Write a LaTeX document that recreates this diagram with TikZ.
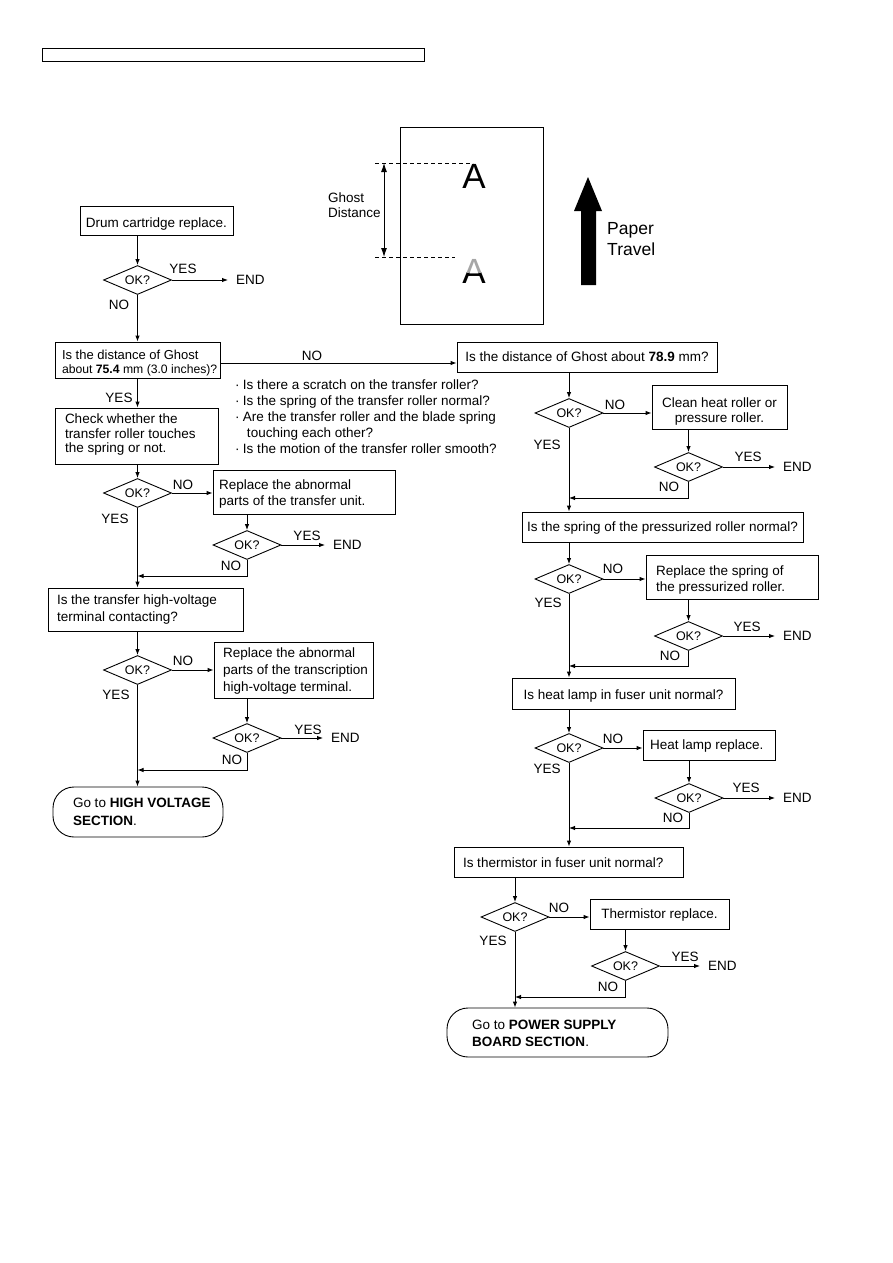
\documentclass[tikz,border=0pt]{standalone}
\usepackage{fontspec}
\setmainfont{Liberation Sans}
\usetikzlibrary{shapes.geometric,arrows.meta}
\newcommand\myfs{\fontsize{13.5}{16}\selectfont}
% raise, width, alignment (l/c), content
\newcommand\tbx[4]{\raisebox{#1}[0pt][0pt]{\makebox[#2][#3]{\begin{tabular}[t]{@{}#3@{}}#4\end{tabular}}}}
\tikzset{
  ln/.style={line width=0.9pt},
  arr/.style={ln,-{Latex[length=6pt,width=4.5pt]}},
  box/.style={draw,ln,rectangle,inner sep=0pt,font=\myfs},
  dec/.style={draw,ln,diamond,aspect=2.35,inner sep=0pt,minimum width=68pt,minimum height=29pt,font=\fontsize{12.5}{14}\selectfont},
  term/.style={draw,ln,rectangle,rounded corners=21pt,inner sep=0pt},
  lbl/.style={inner sep=0pt,font=\myfs},
  endl/.style={inner xsep=8pt,inner ysep=0pt,font=\myfs,anchor=west},
}
\begin{document}
\begin{tikzpicture}[x=1pt,y=-1pt]
\useasboundingbox (0,0) rectangle (893,1263);
\fill[white] (0,0) rectangle (893,1263);
% header bar
\node[draw,ln,minimum width=382pt,minimum height=13pt,inner sep=0pt] (header) at (233,54.5) {};
% ghost figure
\node[draw,ln,minimum width=143pt,minimum height=197pt,inner sep=0pt] (page) at (471.5,225.5) {};
\coordinate (gt1) at (375,163); \coordinate (gt2) at (473,163);
\coordinate (gb1) at (375,257); \coordinate (gb2) at (473,257);
\draw[ln,dash pattern=on 4pt off 3pt] (gt1) -- (gt2);
\draw[ln,dash pattern=on 4pt off 3pt] (gb1) -- (gb2);
\coordinate (da1) at (384,163); \coordinate (da2) at (384,257);
\draw[ln,{Latex[length=9pt,width=6pt]}-{Latex[length=9pt,width=6pt]}] (da1) -- (da2);
\node[lbl,align=left,anchor=west,font=\fontsize{13.5}{15}\selectfont] (ghostlbl) at (328,205.5) {Ghost\\Distance};
\node[lbl,anchor=base,font=\fontsize{35}{35}\selectfont] (Atop) at (474,188) {A};
\node[lbl,anchor=base,font=\fontsize{35}{35}\selectfont] (Abot) at (474,283) {A};
\begin{scope}
  \clip (455,250) rectangle (495,272);
  \fill[white] (455,250) rectangle (495,272);
  \node[lbl,anchor=base,font=\fontsize{35}{35}\selectfont,text=black!35] (Aghost) at (474,283) {A};
\end{scope}
\fill (581,285) -- (581,211) -- (574,211) -- (588,177) -- (602,211) -- (596,211) -- (596,285) -- cycle;
\node[lbl,align=left,anchor=west,font=\fontsize{17.5}{21}\selectfont] (ptravel) at (607,239.5) {Paper\\Travel};

% ===== left column =====
\node[box,minimum width=153pt,minimum height=29pt] (drum) at (156.5,220.5) {\tbx{-6.5pt}{145pt}{c}{Drum cartridge replace.}};
\node[dec] (d1) at (137.5,280) {OK?};
\draw[arr] (drum.south -| d1.north) -- (d1.north);
\node[endl] (e1) at (228,280) {END};
\draw[arr] (d1.east) -- (e1.west);
\node[lbl] (y1) at (183,269) {YES};
\node[lbl] (n1) at (119,305) {NO};

\node[box,minimum width=165pt,minimum height=36pt,font=\fontsize{13}{14}\selectfont] (g75) at (137.5,360) {\tbx{1pt}{151pt}{l}{Is the distance of Ghost\\{\fontsize{12.2}{14}\selectfont about \textbf{75.4} mm (3.0 inches)?}}};
\draw[arr] (d1.south) -- (d1.south |- g75.north);

\node[box,minimum width=260pt,minimum height=30pt] (g78) at (587,357) {\tbx{-4.5pt}{250pt}{c}{Is the distance of Ghost about \textbf{78.9} mm?}};
\draw[arr] ([yshift=-3pt]g75.east) -- ([yshift=-3pt]g75.east -| g78.west);
\node[lbl] (n0) at (312,356) {NO};

\node[lbl,anchor=north west] (bul) at (235,378.5) {\begin{tabular}{@{}l@{\hspace{3.3pt}}l@{}}
·&Is there a scratch on the transfer roller?\\
·&Is the spring of the transfer roller normal?\\
·&Are the transfer roller and the blade spring\\
&\hspace{4pt}touching each other?\\
·&Is the motion of the transfer roller smooth?
\end{tabular}};

\node[box,minimum width=163pt,minimum height=56pt,font=\fontsize{13.5}{14.5}\selectfont] (chk) at (136.5,436) {\tbx{12.5pt}{143pt}{l}{Check whether the\\transfer roller touches\\the spring or not.}};
\draw[arr] (g75.south -| d1.south) -- (chk.north -| d1.south);
\node[lbl] (y0) at (119,398) {YES};

\node[dec] (d2) at (137.5,493) {OK?};
\draw[arr] (chk.south -| d2.north) -- (d2.north);
\node[box,minimum width=182pt,minimum height=44pt] (rtu) at (304,492) {\tbx{2.5pt}{170pt}{l}{Replace the abnormal\\parts of the transfer unit.}};
\draw[arr] (d2.east) -- (d2.east -| rtu.west);
\node[lbl] (n2) at (183,485) {NO};
\node[lbl] (y2) at (115,519) {YES};
\node[dec] (d2s) at (247,545) {OK?};
\draw[arr] (rtu.south -| d2s.north) -- (d2s.north);
\node[endl] (e2) at (325,545) {END};
\draw[arr] (d2s.east) -- (e2.west);
\node[lbl] (y2s) at (307,536) {YES};
\node[lbl] (n2s) at (231,566) {NO};
\coordinate (m2) at (137.5,576);
\draw[arr] (d2s.south) |- (m2);

\node[box,minimum width=195pt,minimum height=43pt,font=\fontsize{13.5}{17}\selectfont] (hv) at (145.5,609.5) {\tbx{5pt}{177pt}{l}{Is the transfer high-voltage\\terminal contacting?}};
\draw[arr] (d2.south) -- (d2.south |- hv.north);

\node[dec] (d3) at (137.5,670) {OK?};
\draw[arr] (hv.south -| d3.north) -- (d3.north);
\node[box,minimum width=159pt,minimum height=56pt,font=\fontsize{13.5}{17}\selectfont] (rhv) at (293.5,670) {\tbx{12.5pt}{141pt}{l}{Replace the abnormal\\parts of the transcription\\high-voltage terminal.}};
\draw[arr] (d3.east) -- (d3.east -| rhv.west);
\node[lbl] (n3) at (183,661) {NO};
\node[lbl] (y3) at (116,695) {YES};
\node[dec] (d3s) at (247,738) {OK?};
\draw[arr] (rhv.south -| d3s.north) -- (d3s.north);
\node[endl] (e3) at (323,738) {END};
\draw[arr] (d3s.east) -- (e3.west);
\node[lbl] (y3s) at (308,730) {YES};
\node[lbl] (n3s) at (232,760) {NO};
\coordinate (m3) at (137.5,770);
\draw[arr] (d3s.south) |- (m3);

\node[term,minimum width=170pt,minimum height=50pt,font=\fontsize{13.5}{18}\selectfont] (thv) at (138,812) {\tbx{4.5pt}{130pt}{l}{Go to \textbf{HIGH VOLTAGE}\\\textbf{SECTION}.}};
\draw[arr] (d3.south) -- (d3.south |- thv.north);

% ===== right column =====
\node[dec] (r1) at (569,413) {OK?};
\draw[arr] (g78.south -| r1.north) -- (r1.north);
\node[box,minimum width=135pt,minimum height=44pt,font=\fontsize{13.5}{14.5}\selectfont] (cln) at (719.5,407) {\tbx{-0.6pt}{125pt}{c}{Clean heat roller or\\pressure roller.}};
\draw[arr] (r1.east) -- (r1.east -| cln.west);
\node[lbl] (rn1) at (615,405) {NO};
\node[lbl] (ry1) at (547,445) {YES};
\node[dec] (r1s) at (688.5,467) {OK?};
\draw[arr] (cln.south -| r1s.north) -- (r1s.north);
\node[endl] (re1) at (775,467) {END};
\draw[arr] (r1s.east) -- (re1.west);
\node[lbl] (ry1s) at (748,457) {YES};
\node[lbl] (rn1s) at (669,487) {NO};
\coordinate (rm1) at (569,498);
\draw[arr] (r1s.south) |- (rm1);

\node[box,minimum width=281pt,minimum height=30pt] (spr) at (662.5,527) {\tbx{-4.5pt}{271pt}{c}{Is the spring of the pressurized roller normal?}};
\draw[arr] (r1.south) -- (r1.south |- spr.north);

\node[dec] (r2) at (569,579) {OK?};
\draw[arr] (spr.south -| r2.north) -- (r2.north);
\node[box,minimum width=172pt,minimum height=44pt] (rsp) at (732,577) {\tbx{1.5pt}{152pt}{l}{Replace the spring of\\the pressurized roller.}};
\draw[arr] (r2.east) -- (r2.east -| rsp.west);
\node[lbl] (rn2) at (613,569) {NO};
\node[lbl] (ry2) at (548,603) {YES};
\node[dec] (r2s) at (688.5,636) {OK?};
\draw[arr] (rsp.south -| r2s.north) -- (r2s.north);
\node[endl] (re2) at (775,636) {END};
\draw[arr] (r2s.east) -- (re2.west);
\node[lbl] (ry2s) at (747,627) {YES};
\node[lbl] (rn2s) at (670,656) {NO};
\coordinate (rm2) at (569,666);
\draw[arr] (r2s.south) |- (rm2);

\node[box,minimum width=223pt,minimum height=31pt] (heat) at (623.5,693.5) {\tbx{-6pt}{213pt}{c}{Is heat lamp in fuser unit normal?}};
\draw[arr] (r2.south) -- (r2.south |- heat.north);

\node[dec] (r3) at (569,748) {OK?};
\draw[arr] (heat.south -| r3.north) -- (r3.north);
\node[box,minimum width=132pt,minimum height=30pt] (hrp) at (709,745) {\tbx{-4.5pt}{118pt}{l}{Heat lamp replace.}};
\draw[arr] (r3.east) -- (r3.east -| hrp.west);
\node[lbl] (rn3) at (613,739) {NO};
\node[lbl] (ry3) at (547,769) {YES};
\node[dec] (r3s) at (689,798) {OK?};
\draw[arr] (hrp.south -| r3s.north) -- (r3s.north);
\node[endl] (re3) at (775,798) {END};
\draw[arr] (r3s.east) -- (re3.west);
\node[lbl] (ry3s) at (746,788) {YES};
\node[lbl] (rn3s) at (673,818) {NO};
\coordinate (rm3) at (569,828);
\draw[arr] (r3s.south) |- (rm3);

\node[box,minimum width=229pt,minimum height=30pt] (thm) at (568.5,862) {\tbx{-5.5pt}{211pt}{l}{Is thermistor in fuser unit normal?}};
\draw[arr] (r3.south) -- (r3.south |- thm.north);

\node[dec] (r4) at (515,917) {OK?};
\draw[arr] (thm.south -| r4.north) -- (r4.north);
\node[box,minimum width=139pt,minimum height=30pt] (trp) at (659.5,914) {\tbx{-4.5pt}{129pt}{c}{Thermistor replace.}};
\draw[arr] (r4.east) -- (r4.east -| trp.west);
\node[lbl] (rn4) at (559,908) {NO};
\node[lbl] (ry4) at (493,941) {YES};
\node[dec] (r4s) at (625.5,966) {OK?};
\draw[arr] (trp.south -| r4s.north) -- (r4s.north);
\node[endl] (re4) at (700,966) {END};
\draw[arr] (r4s.east) -- (re4.west);
\node[lbl] (ry4s) at (685,957) {YES};
\node[lbl] (rn4s) at (608,987) {NO};
\coordinate (rm4) at (515,997);
\draw[arr] (r4s.south) |- (rm4);

\node[term,minimum width=221pt,minimum height=49pt,font=\fontsize{13.5}{17}\selectfont] (tps) at (557.5,1032.5) {\tbx{3pt}{171pt}{l}{Go to \textbf{POWER SUPPLY}\\\textbf{BOARD SECTION}.}};
\draw[arr] (r4.south) -- (r4.south |- tps.north);
\end{tikzpicture}
\end{document}
